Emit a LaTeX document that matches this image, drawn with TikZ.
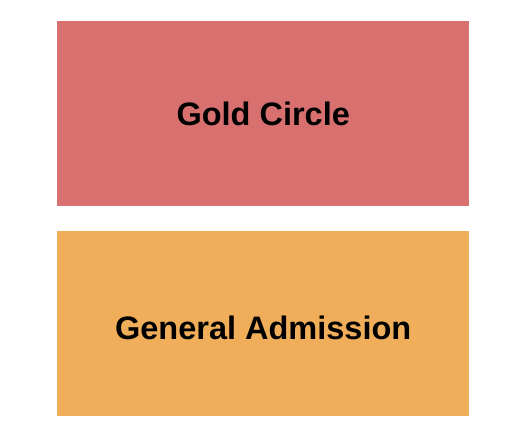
\documentclass[tikz,border=0pt]{standalone}
\usepackage{fontspec}
\setmainfont{Liberation Sans}
\usetikzlibrary{positioning}
\definecolor{goldred}{HTML}{D87070}
\definecolor{genorange}{HTML}{F0AE5A}
\tikzset{section/.style={minimum width=412pt,minimum height=185pt,inner sep=0pt,font=\fontsize{32.5}{36}\selectfont\bfseries}}
\begin{document}
\begin{tikzpicture}[x=1pt,y=-1pt]
\useasboundingbox[fill=white] (0,0) rectangle (525,444);
\node[section,fill=goldred,anchor=north west] (gold) at (57,21) {Gold Circle};
\node[section,fill=genorange,below=24pt of gold,text height=33pt] (ga) {General Admission};
\end{tikzpicture}
\end{document}
